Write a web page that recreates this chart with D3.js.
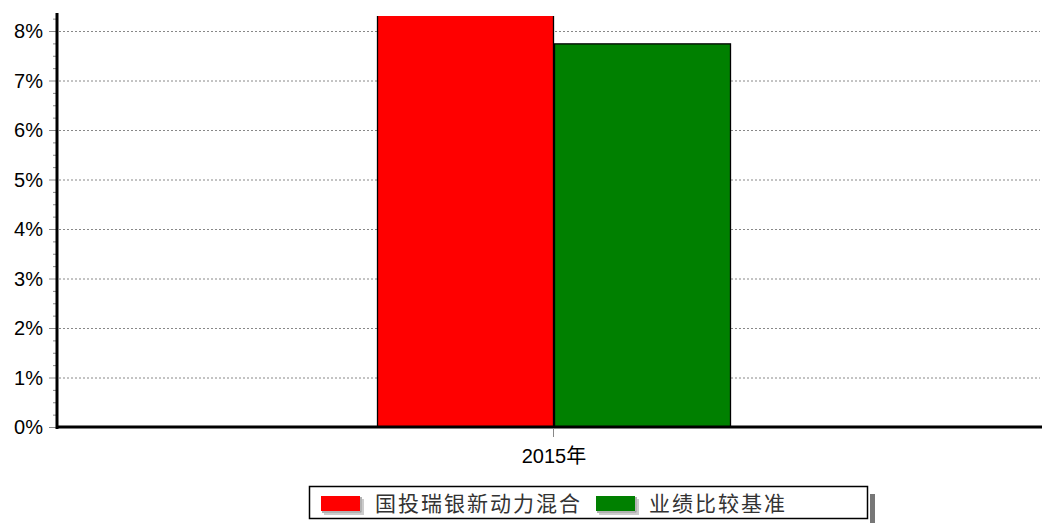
<!DOCTYPE html>
<html><head><meta charset="utf-8">
<script src="https://cdn.jsdelivr.net/npm/d3@7"></script>
<style>body{margin:0;background:#fff}svg{display:block}</style>
</head><body>
<svg id="c" width="1042" height="523"></svg>
<script>
const categories = ["2015年"];
const seriesNames = ["国投瑞银新动力混合", "业绩比较基准"];
const seriesColors = ["#ff0000", "#008000"];
const fundValues = [8.9];
const benchValues = [7.75];
const yTicks = [0,1,2,3,4,5,6,7,8];

(function(){
const svg = d3.select("#c");
const pl = 57, pr = 1042, pt = 16, pb = 427;
const y = d3.scaleLinear().domain([0, 8]).range([pb, 31]);
const x = d3.scaleBand().domain(categories).range([66, pr]);

svg.append("clipPath").attr("id","clip").append("rect")
  .attr("x", pl).attr("y", pt).attr("width", pr-pl).attr("height", pb-pt);

// gridlines
svg.append("g").selectAll("line").data(yTicks.filter(d=>d>0)).join("line")
  .attr("x1", pl+2).attr("x2", 1040).attr("y1", d=>y(d)+0.5).attr("y2", d=>y(d)+0.5)
  .attr("stroke", "#888").attr("stroke-width", 1).attr("stroke-dasharray", "2,2");

// bars
const barW = 177;
const data = [fundValues, benchValues];
const gBars = svg.append("g").attr("clip-path", "url(#clip)");
seriesNames.forEach((s, i) => {
  const xb = d3.scaleBand().domain(seriesNames).padding(0);
  gBars.selectAll(null).data(data[i]).join("rect")
    .attr("x", (d, j) => {
      const c = x(categories[j]) + x.bandwidth()/2;
      xb.range([c - barW, c + barW]);
      return xb(s) + 0.5;
    })
    .attr("y", d => y(d) + 0.5)
    .attr("width", barW - 1)
    .attr("height", d => pb - y(d))
    .attr("fill", seriesColors[i]).attr("stroke", "#000").attr("stroke-width", 1.3);
});

// y minor ticks
const minor = d3.range(0, 8.26, 0.25);
svg.append("g").selectAll("line").data(minor).join("line")
  .attr("x1", d => (Math.abs(d - Math.round(d)) < 1e-6) ? 49 : 53).attr("x2", pl)
  .attr("y1", d => y(d)+0.5).attr("y2", d => y(d)+0.5)
  .attr("stroke", "#888").attr("stroke-width", 1);

// y labels
svg.append("g").selectAll("text").data(yTicks).join("text")
  .attr("x", 43).attr("y", d => y(d) + 7)
  .attr("text-anchor", "end").attr("font-family", "Liberation Sans, Arial, sans-serif")
  .attr("font-size", 20).attr("fill", "#000").text(d => d + "%");

// axes
svg.append("line").attr("x1", pl).attr("x2", pl).attr("y1", 13).attr("y2", pb+2)
  .attr("stroke", "#000").attr("stroke-width", 3);
svg.append("line").attr("x1", pl).attr("x2", pr).attr("y1", pb).attr("y2", pb)
  .attr("stroke", "#000").attr("stroke-width", 3);

// x tick and label
svg.append("g").selectAll("line").data(categories).join("line")
  .attr("x1", d => x(d) + x.bandwidth()/2 - 0.5).attr("x2", d => x(d) + x.bandwidth()/2 - 0.5)
  .attr("y1", pb+1).attr("y2", 437).attr("stroke", "#888").attr("stroke-width", 1);
svg.append("g").selectAll("text").data(categories).join("text")
  .attr("x", d => x(d) + x.bandwidth()/2).attr("y", 463)
  .attr("text-anchor", "middle").attr("font-family", "Liberation Sans, Arial, Noto Sans CJK SC, sans-serif")
  .attr("font-size", 20).text(d => d);

// legend
const lg = svg.append("g");
lg.append("rect").attr("x", 870).attr("y", 494).attr("width", 5).attr("height", 29).attr("fill", "#777");
lg.append("rect").attr("x", 309.5).attr("y", 486.5).attr("width", 558).attr("height", 32)
  .attr("fill", "#fff").attr("stroke", "#000").attr("stroke-width", 1.5);
const items = [{x: 321, tx: 375}, {x: 596, tx: 649}];
seriesNames.forEach((s, i) => {
  const it = items[i];
  lg.append("path").attr("d", `M${it.x+3},${514} H${it.x+42} V${499}`).attr("fill","none").attr("stroke","#ccc").attr("stroke-width",2);
  lg.append("path").attr("d", `M${it.x+1},${512} H${it.x+40} V${497}`).attr("fill","none").attr("stroke","#999").attr("stroke-width",1.5);
  lg.append("rect").attr("x", it.x).attr("y", 496).attr("width", 39).attr("height", 15).attr("fill", seriesColors[i]);
  lg.append("text").attr("x", it.tx).attr("y", 511).attr("font-family", "Noto Sans CJK SC, sans-serif")
    .attr("font-size", 21).attr("letter-spacing", 2).attr("fill", "#333").text(s);
});
})();
</script>
</body></html>
